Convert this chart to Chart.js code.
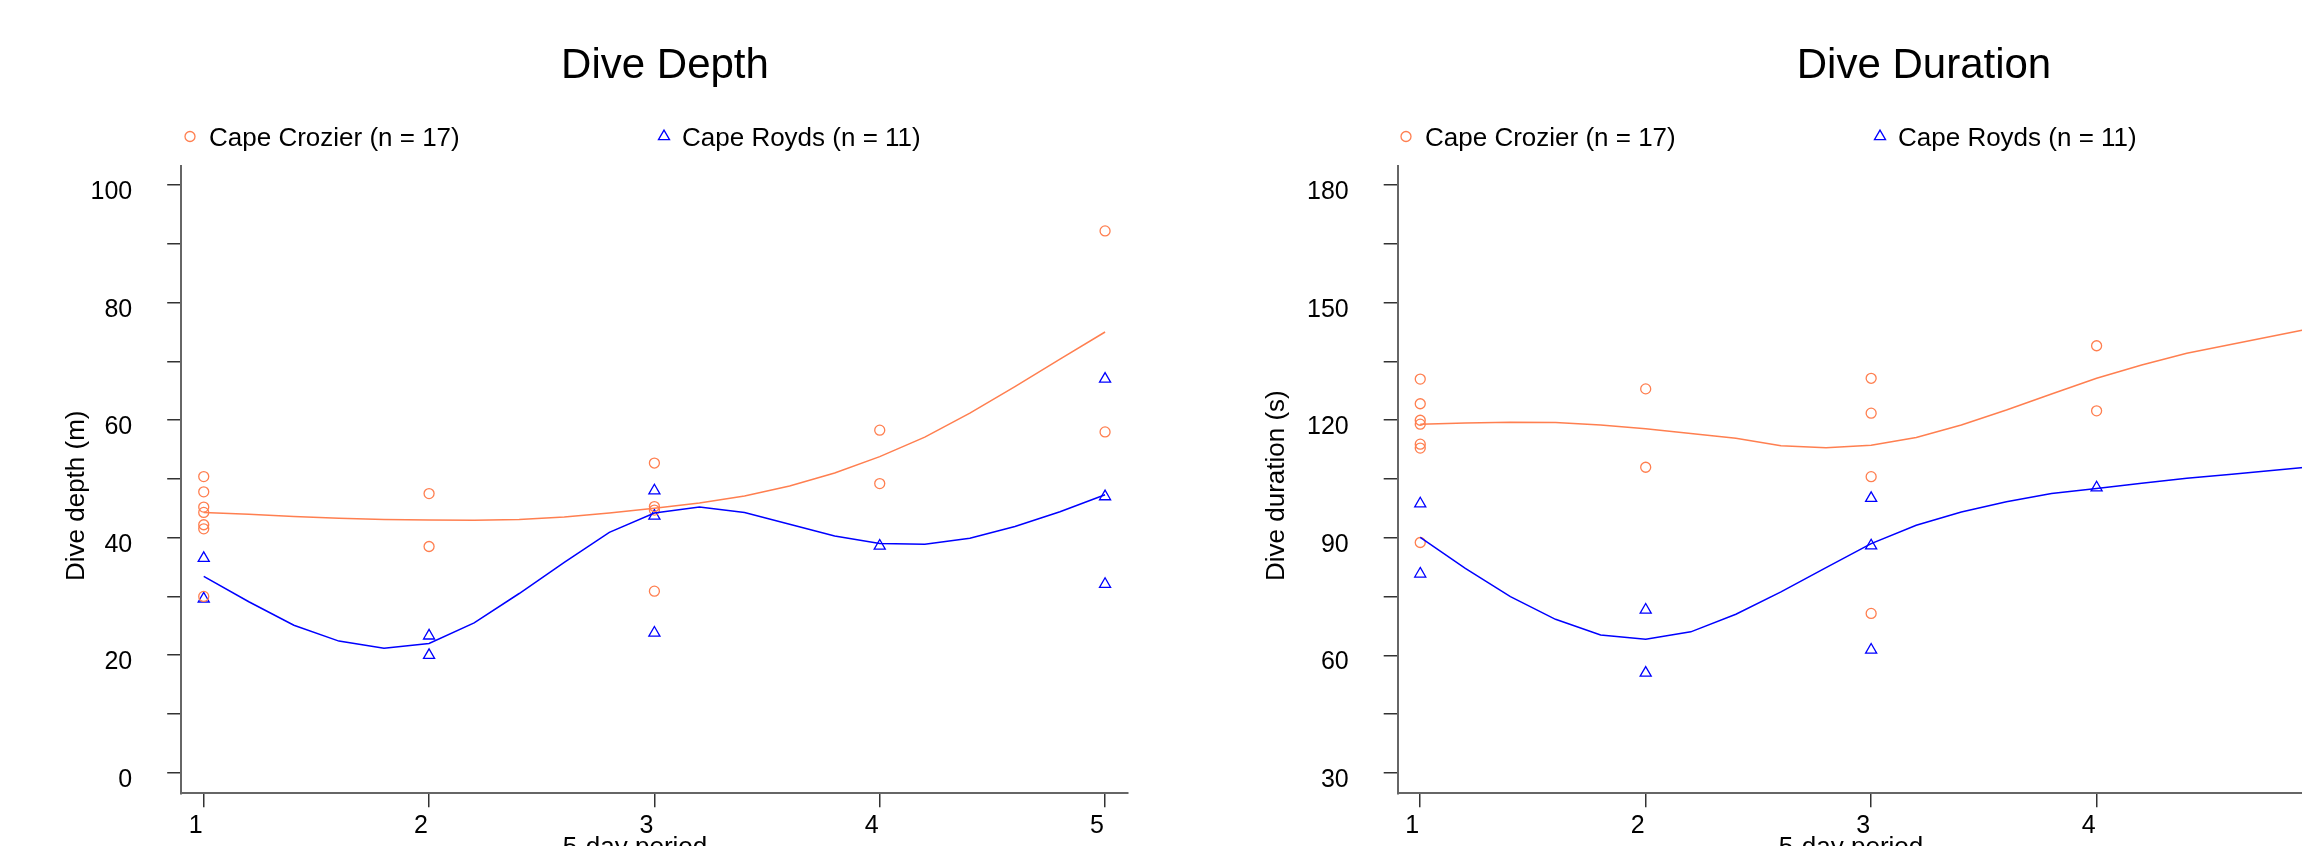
<!DOCTYPE html>
<html><head><meta charset="utf-8">
<script src="https://cdn.jsdelivr.net/npm/chart.js@4.4.0/dist/chart.umd.min.js"></script>
<style>
html,body{margin:0;padding:0;background:#fff;overflow:hidden;width:2302px;height:846px;}
#wrap{position:relative;width:2302px;height:846px;overflow:hidden;background:#fff;}
canvas{position:absolute;top:0;}
</style></head><body>
<div id="wrap">
<canvas id="c1" width="1150" height="846" style="left:0px"></canvas>
<canvas id="c2" width="1150" height="846" style="left:1217px"></canvas>
</div>
<script>
// ---------- data ----------
const periods = [1, 2, 3, 4, 5];
const smoothX = [1, 1.2, 1.4, 1.6, 1.8, 2, 2.2, 2.4, 2.6, 2.8, 3, 3.2, 3.4, 3.6, 3.8, 4, 4.2, 4.4, 4.6, 4.8, 5];

const depthTicks = [0, 10, 20, 30, 40, 50, 60, 70, 80, 90, 100];
const depthTickLabels = [0, 20, 40, 60, 80, 100];
const durationTicks = [30, 45, 60, 75, 90, 105, 120, 135, 150, 165, 180];
const durationTickLabels = [30, 60, 90, 120, 150, 180];

const seriesNames = ["Cape Crozier (n = 17)", "Cape Royds (n = 11)"];

// Dive depth observations
const depthCrozierX = [1, 1, 1, 1, 1, 1, 1, 2, 2, 3, 3, 3, 3, 4, 4, 5, 5];
const depthCrozierY = [50.4, 47.8, 45.2, 44.3, 42.2, 41.5, 30.0, 47.5, 38.5, 52.7, 45.3, 44.7, 30.9, 58.3, 49.2, 92.2, 58.0];
const depthRoydsX = [1, 1, 2, 2, 3, 3, 3, 4, 5, 5, 5];
const depthRoydsY = [36.5, 29.6, 23.3, 20.0, 48.0, 43.7, 23.8, 38.6, 67.0, 47.0, 32.1];
// Dive depth smoothed curves
const depthCrozierFit = [44.3, 44.0, 43.6, 43.3, 43.1, 43.0, 42.95, 43.1, 43.5, 44.2, 45.0, 45.9, 47.1, 48.8, 51.0, 53.8, 57.1, 61.2, 65.7, 70.4, 75.0];
const depthRoydsFit = [33.4, 29.1, 25.1, 22.4, 21.2, 22.0, 25.5, 30.5, 35.8, 40.9, 44.2, 45.2, 44.3, 42.3, 40.3, 39.0, 38.9, 39.9, 41.9, 44.4, 47.3];

// Dive duration observations (period 5 lies outside the visible picture)
const durCrozierX = [1, 1, 1, 1, 1, 1, 1, 2, 2, 3, 3, 3, 3, 4, 4];
const durCrozierY = [130.5, 124.2, 120.0, 119.0, 113.9, 112.9, 88.8, 128.0, 108.0, 130.7, 121.8, 105.6, 70.7, 139.0, 122.4];
const durRoydsX = [1, 1, 2, 2, 3, 3, 3, 4];
const durRoydsY = [98.7, 80.8, 71.6, 55.5, 100.1, 88.0, 61.4, 102.8];
// Dive duration smoothed curves
const durCrozierFit = [119.0, 119.3, 119.5, 119.4, 118.8, 117.8, 116.6, 115.4, 113.5, 113.0, 113.6, 115.6, 118.8, 122.6, 126.7, 130.7, 134.1, 137.1, 139.4, 141.7, 144.0];
const durRoydsFit = [90.1, 82.2, 75.0, 69.2, 65.2, 64.1, 66.0, 70.5, 76.2, 82.4, 88.5, 93.2, 96.6, 99.2, 101.3, 102.6, 103.9, 105.2, 106.2, 107.3, 108.4];

// ---------- styling ----------
const ORANGE = '#FF7F50';
const BLUE = '#0000FF';
const FONT = '"Liberation Sans", Arial, Helvetica, sans-serif';
Chart.defaults.font.family = FONT;
Chart.defaults.color = '#000';

const pts = (xs, ys) => xs.map((x, i) => ({x: x, y: ys[i]}));

const panelText = {
  id: 'panelText',
  afterDraw(chart, args, o) {
    const ctx = chart.ctx;
    ctx.save();
    ctx.fillStyle = '#000';
    // title
    ctx.font = '42px ' + FONT;
    ctx.textAlign = 'center';
    ctx.textBaseline = 'alphabetic';
    ctx.fillText(o.title, o.titleX, 78);
    // legend
    ctx.font = '26px ' + FONT;
    ctx.textAlign = 'left';
    const ds = chart.data.datasets.filter(d => d.legendItem);
    ds.forEach((d, i) => {
      const it = o.legend[i];
      ctx.save();
      ctx.strokeStyle = d.borderColor;
      ctx.fillStyle = 'rgba(0,0,0,0)';
      ctx.lineWidth = d.borderWidth;
      Chart.helpers.drawPoint(ctx, {pointStyle: d.pointStyle, radius: d.pointRadius, borderWidth: d.borderWidth, rotation: 0}, it.mx, o.legendY);
      ctx.restore();
      ctx.fillStyle = '#000';
      ctx.fillText(d.label, it.tx, o.legendY + 9);
    });
    // x label (partly cut off by bottom edge)
    ctx.textAlign = 'center';
    ctx.fillText(o.xlab, o.xlabX, 855);
    // y label
    ctx.translate(o.ylabX, o.ylabY);
    ctx.rotate(-Math.PI / 2);
    ctx.textAlign = 'left';
    ctx.fillText(o.ylab, 0, 0);
    ctx.restore();
  }
};

function makeChart(id, cfg) {
  const yLab = cfg.yLabels;
  return new Chart(document.getElementById(id), {
    type: 'scatter',
    data: {
      datasets: [
        {label: seriesNames[0] + ' fit', data: pts(smoothX, cfg.fitA), showLine: true, pointRadius: 0, borderColor: ORANGE, borderWidth: 1.5, tension: 0, fill: false},
        {label: seriesNames[1] + ' fit', data: pts(smoothX, cfg.fitB), showLine: true, pointRadius: 0, borderColor: BLUE, borderWidth: 1.5, tension: 0, fill: false},
        {label: seriesNames[0], legendItem: true, data: pts(cfg.ax, cfg.ay), pointStyle: 'circle', pointRadius: 5, borderWidth: 1.3, borderColor: ORANGE, backgroundColor: 'rgba(0,0,0,0)', showLine: false},
        {label: seriesNames[1], legendItem: true, data: pts(cfg.bx, cfg.by), pointStyle: 'triangle', pointRadius: 6.4, borderWidth: 1.3, borderColor: BLUE, backgroundColor: 'rgba(0,0,0,0)', showLine: false}
      ]
    },
    options: {
      responsive: false,
      animation: false,
      devicePixelRatio: 1,
      events: [],
      layout: {padding: {top: 165.7, right: 22.4, bottom: 0, left: 0}},
      plugins: {
        legend: {display: false},
        title: {display: false},
        tooltip: {enabled: false},
        panelText: cfg.text
      },
      scales: {
        x: {
          type: 'linear', position: 'bottom', min: 0.9, max: 5.1,
          afterBuildTicks: s => { s.ticks = periods.map(v => ({value: v})); },
          afterFit: s => { s.height = 52.7; },
          ticks: {autoSkip: false, maxRotation: 0, padding: 4, labelOffset: -8, font: {size: 25}, color: '#000', callback: v => String(v)},
          grid: {drawOnChartArea: false, drawTicks: true, tickLength: 14, color: '#333', lineWidth: 1.5},
          border: {display: true, color: '#666', width: 2}
        },
        y: {
          type: 'linear', position: 'left', min: cfg.ymin, max: cfg.ymax,
          afterBuildTicks: s => { s.ticks = cfg.yTicks.map(v => ({value: v})); },
          afterFit: s => { s.width = cfg.yWidth; },
          ticks: {autoSkip: false, padding: 35, labelOffset: 7, font: {size: 25}, color: '#000', callback: v => (yLab.includes(v) ? String(v) : '')},
          grid: {drawOnChartArea: false, drawTicks: true, tickLength: 14, color: '#333', lineWidth: 1.5},
          border: {display: true, color: '#666', width: 2}
        }
      }
    },
    plugins: [panelText]
  });
}

makeChart('c1', {
  fitA: depthCrozierFit, fitB: depthRoydsFit,
  ax: depthCrozierX, ay: depthCrozierY, bx: depthRoydsX, by: depthRoydsY,
  ymin: -3.5, ymax: 103.3, yTicks: depthTicks, yLabels: depthTickLabels, yWidth: 181.2,
  text: {title: 'Dive Depth', titleX: 665, legendY: 136.5,
         legend: [{mx: 190, tx: 209}, {mx: 664, tx: 682}],
         xlab: '5-day period', xlabX: 635, ylab: 'Dive depth (m)', ylabX: 84, ylabY: 581}
});

makeChart('c2', {
  fitA: durCrozierFit, fitB: durRoydsFit,
  ax: durCrozierX, ay: durCrozierY, bx: durRoydsX, by: durRoydsY,
  ymin: 24.8, ymax: 184.95, yTicks: durationTicks, yLabels: durationTickLabels, yWidth: 180.7,
  text: {title: 'Dive Duration', titleX: 707, legendY: 136.5,
         legend: [{mx: 189, tx: 208}, {mx: 663, tx: 681}],
         xlab: '5-day period', xlabX: 634, ylab: 'Dive duration (s)', ylabX: 67, ylabY: 581}
});
</script>
</body></html>
